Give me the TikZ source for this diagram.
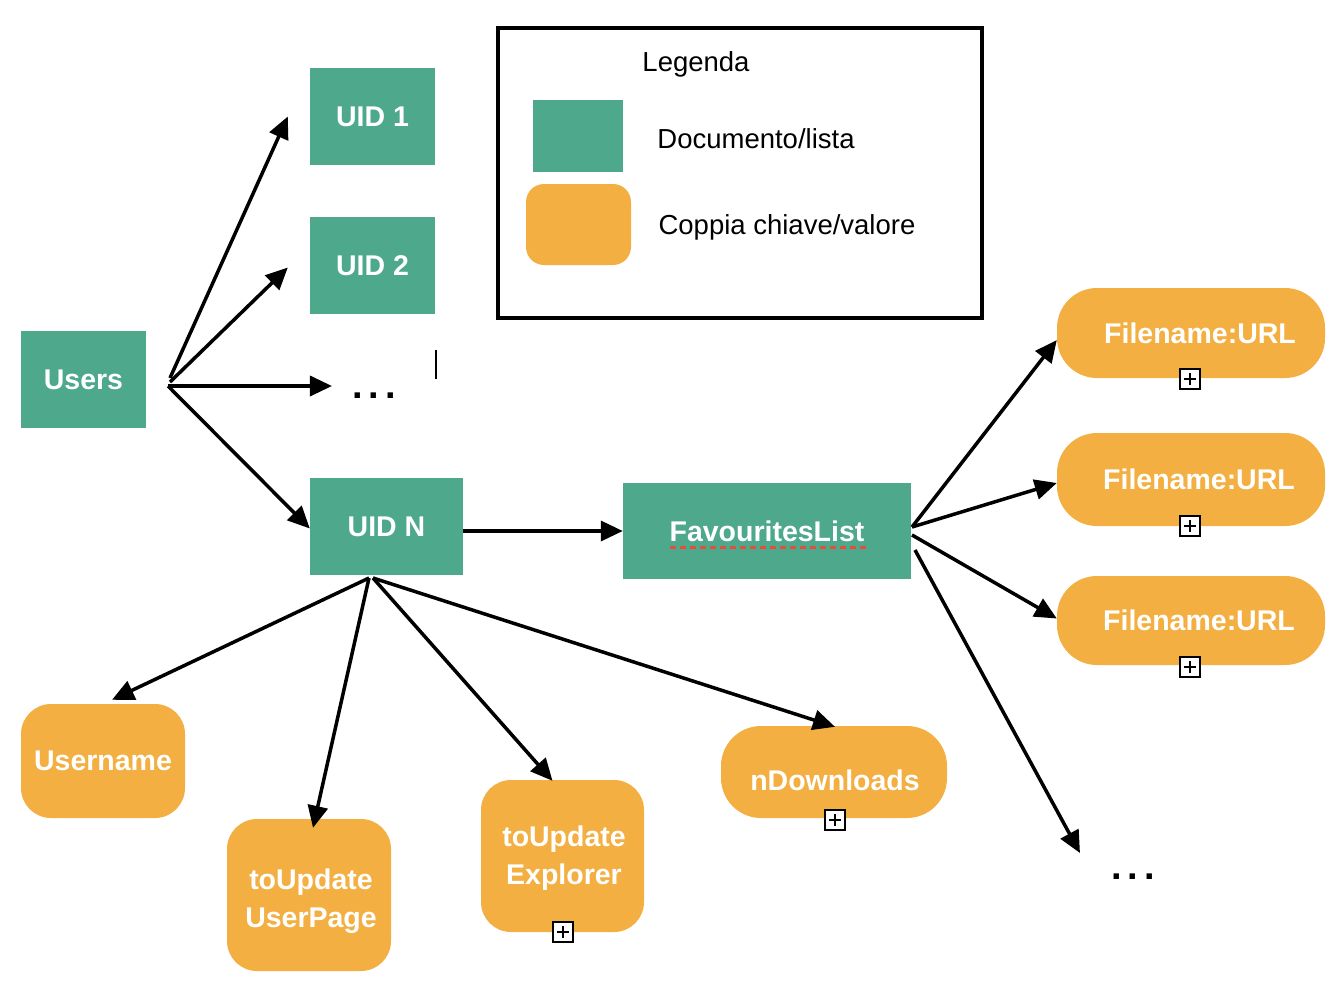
\documentclass[tikz,border=0pt]{standalone}
\usepackage{fontspec}
\setmainfont{Liberation Sans}
\usetikzlibrary{arrows.meta}
\definecolor{docgreen}{RGB}{77,168,140}
\definecolor{kvorange}{RGB}{243,175,65}
\definecolor{spellred}{RGB}{226,80,60}
\begin{document}
\begin{tikzpicture}[x=1pt,y=-1pt,
  doc/.style={fill=docgreen, text=white, font=\bfseries\fontsize{28.5}{38}\selectfont, inner sep=0pt},
  kv/.style={fill=kvorange, text=white, font=\bfseries\fontsize{28.5}{38}\selectfont, inner sep=0pt, align=center, rounded corners=30pt},
  kvtext/.style={text=white, font=\bfseries\fontsize{28.5}{38}\selectfont, inner sep=0pt, align=center},
  legtext/.style={font=\fontsize{27.5}{33}\selectfont, inner sep=0pt},
  dots/.style={font=\bfseries\fontsize{38}{40}\selectfont, inner sep=0pt},
  arr/.style={line width=3.5pt, -{Triangle[length=22pt,width=20pt]}},
  plusbox/.style={draw=black, fill=white, line width=1.8pt, minimum size=20pt, inner sep=0pt,
    path picture={
      \draw[line width=1.6pt] ([yshift=-4pt]path picture bounding box.north) -- ([yshift=4pt]path picture bounding box.south);
      \draw[line width=1.6pt] ([xshift=4pt]path picture bounding box.west) -- ([xshift=-4pt]path picture bounding box.east);
    }}
]
\useasboundingbox (0,0) rectangle (1340,1004);

% legend
\node[draw=black, line width=3.5pt, minimum width=484pt, minimum height=290pt, inner sep=0pt] (legend) at (740,173) {};
\node[legtext] (legtitle) at (696,64) {Legenda};
\node[fill=docgreen, minimum width=90pt, minimum height=72pt, inner sep=0pt] (legdoc) at (578,136) {};
\node[fill=kvorange, rounded corners=18pt, minimum width=105pt, minimum height=81pt, inner sep=0pt] (legkv) at (578.5,224.5) {};
\node[legtext] (legdoctext) at (756,139) {Documento/lista};
\node[legtext] (legkvtext) at (787,227) {Coppia chiave/valore};

% documents
\node[doc, minimum width=125pt, minimum height=97pt] (users) at (83.5,379.5) {Users};
\node[doc, minimum width=125pt, minimum height=97pt] (uid1) at (372.5,116.5) {UID 1};
\node[doc, minimum width=125pt, minimum height=97pt] (uid2) at (372.5,265.5) {UID 2};
\node[dots] (dots1) at (374,396) {.\kern6pt.\kern6pt.};
\draw[line width=1.5pt] (436,350) -- (436,379);
\node[doc, minimum width=153pt, minimum height=97pt] (uidn) at (386.5,526.5) {UID N};
\node[doc, minimum width=288pt, minimum height=96pt] (fav) at (767,531) {FavouritesList};
\draw[spellred, line width=3pt, dash pattern=on 6pt off 4pt] (670,547) -- (866,547);

% key/value boxes
\node[kv, rounded corners=40pt, minimum width=268pt, minimum height=90pt] (f1) at (1191,333) {\hspace*{18pt}Filename:URL};
\node[kv, rounded corners=40pt, minimum width=268pt, minimum height=93pt] (f2) at (1191,479.5) {\hspace*{16pt}Filename:URL};
\node[kv, rounded corners=40pt, minimum width=268pt, minimum height=89pt] (f3) at (1191,620.5) {\hspace*{16pt}Filename:URL};
\node[plusbox] (p1) at (1190,379) {};
\node[plusbox] (p2) at (1190,526) {};
\node[plusbox] (p3) at (1190,667) {};
\node[dots] (dots2) at (1133,877) {.\kern6pt.\kern6pt.};

\node[kv, minimum width=164pt, minimum height=114pt] (username) at (103,761) {Username};
\node[kv, minimum width=164pt, minimum height=152pt] (userpage) at (309,895) {};
\node[kvtext] (userpagetext) at (311,901) {toUpdate\\UserPage};
\node[kv, minimum width=163pt, minimum height=152pt] (explorer) at (562.5,856) {};
\node[kvtext] (explorertext) at (564,858) {toUpdate\\Explorer};
\node[plusbox] (p4) at (563,932) {};
\node[kv, rounded corners=40pt, minimum width=226pt, minimum height=92pt] (ndl) at (834,772) {};
\node[kvtext] (ndltext) at (835,780) {nDownloads};
\node[plusbox] (p5) at (835,820) {};

% connectors
\coordinate (uo) at (168,386);
\draw[arr] ([xshift=2pt,yshift=8pt]uo) -- ([xshift=-22pt]uid1.west);
\draw[arr] ([xshift=2pt,yshift=4pt]uo) -- ([xshift=-22pt,yshift=-2pt]uid2.west);
\draw[arr] (uo) -- ([xshift=-20pt]dots1.west |- uo);
\draw[arr] (uo) -- ([yshift=-2pt]uidn.west);
\draw[arr] (uidn.east |- fav.west) -- (fav.west);

\coordinate (nb) at (369,578);
\draw[arr] (nb) -- ([xshift=9pt,yshift=4pt]username.north);
\draw[arr] (nb) -- ([xshift=4pt,yshift=-9pt]userpage.north);
\draw[arr] ([xshift=4pt]nb) -- ([xshift=-10pt,yshift=-1pt]explorer.north);
\draw[arr] ([xshift=4pt]nb) -- ([xshift=1pt,yshift=-1pt]ndl.north);

\coordinate (fo) at (912,527);
\draw[arr] (fo) -- ([yshift=-7pt]f1.west);
\draw[arr] (fo) -- ([yshift=-3.5pt]f2.west);
\draw[arr] ([yshift=-8pt]fo) -- ([yshift=2pt]f3.west);
\draw[arr] ([xshift=3pt,yshift=-23pt]fo) -- ([xshift=-31pt,yshift=24pt]dots2.west);
\end{tikzpicture}
\end{document}
